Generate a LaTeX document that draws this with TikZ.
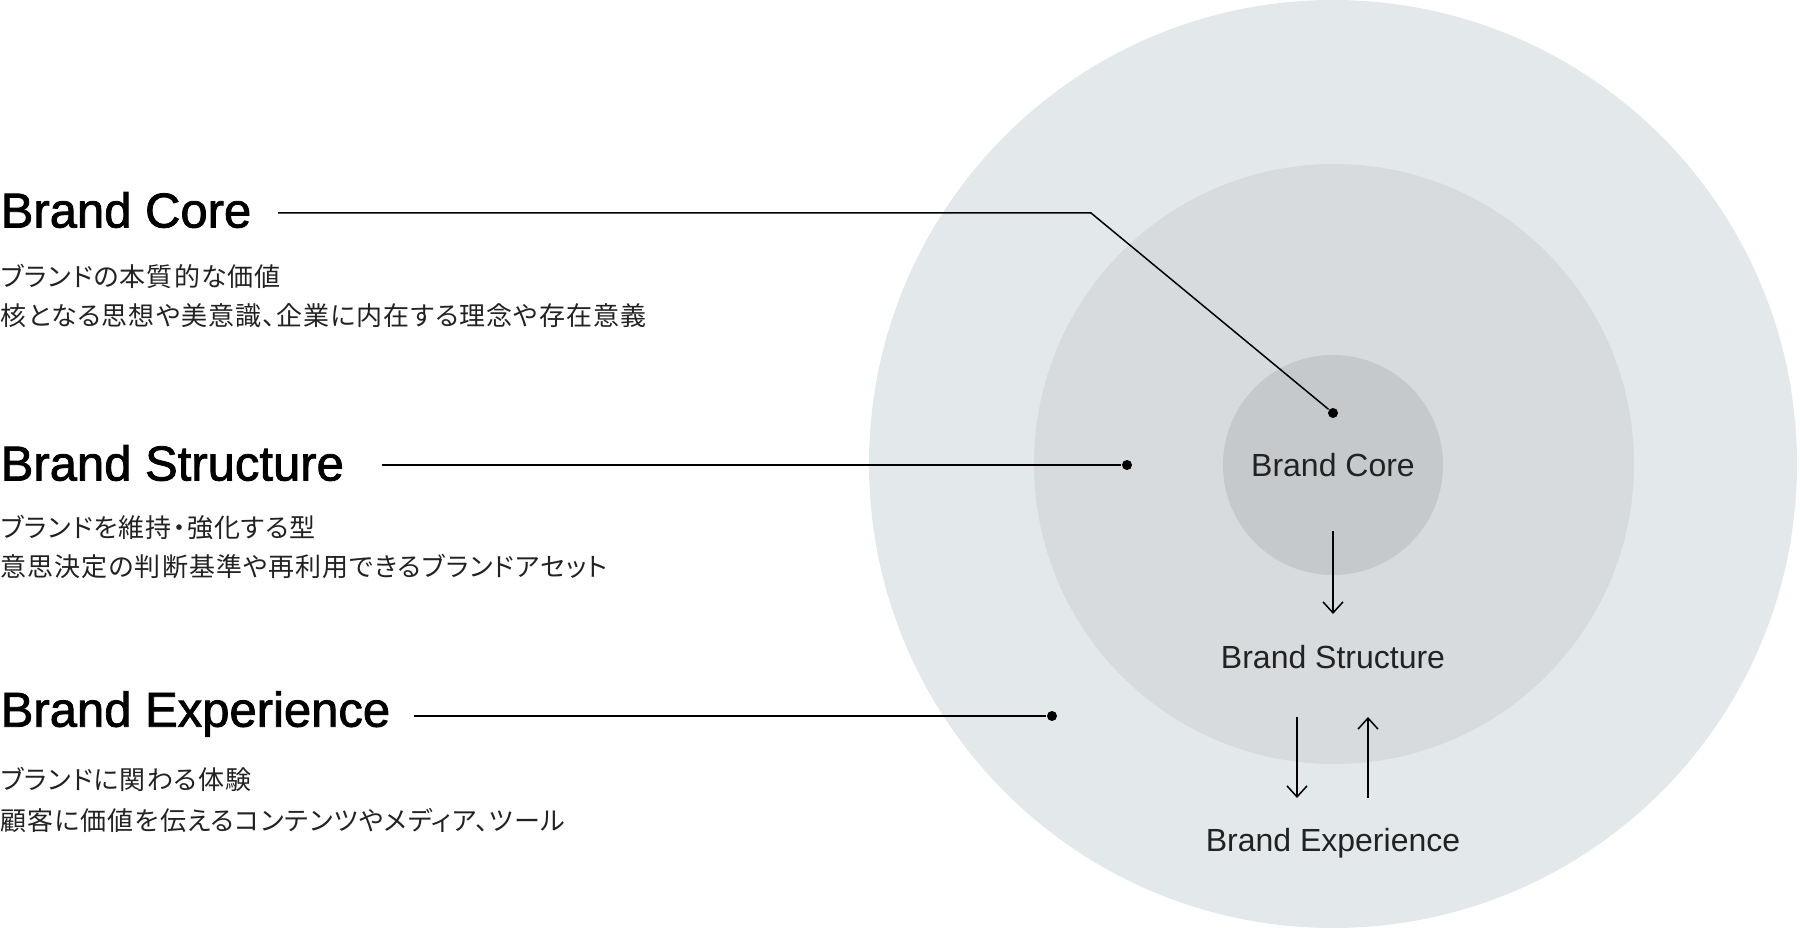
\documentclass[tikz,border=0pt]{standalone}
\usepackage{fontspec}
\setmainfont{Liberation Sans}
\newfontfamily\ttlfont[FakeBold=1.6]{Liberation Sans}
\newfontfamily\jpfont[RawFeature=+palt,LetterSpace=4]{Noto Sans CJK JP}
\usetikzlibrary{arrows.meta}
\definecolor{ringout}{RGB}{227,232,234}
\definecolor{ringmid}{RGB}{215,219,222}
\definecolor{ringin}{RGB}{198,201,204}
\definecolor{txtgray}{RGB}{34,34,34}

\begin{document}
\begin{tikzpicture}[x=0.5pt,y=-0.5pt,line width=0.75pt]
    \tikzstyle{every node}=[inner sep=0pt];
    \tikzstyle{title}=[anchor=west,font=\ttlfont\fontsize{24.5}{28}\selectfont];
    \tikzstyle{desc}=[anchor=west,text=txtgray,font=\jpfont\fontsize{13}{15}\selectfont];
    \tikzstyle{lbl}=[text=txtgray,font=\fontsize{16}{19}\selectfont];
    \tikzstyle{dot}=[circle,fill=black,minimum size=5pt];
    \tikzstyle{arr}=[-{Straight Barb[length=5.5pt,width=10pt]}];
    \useasboundingbox (0,0) rectangle (1800,930);

    % rings
    \fill[ringout] (1333,464) circle [radius=232pt];
    \fill[ringmid] (1334,464) circle [radius=150pt];
    \fill[ringin]  (1333,465) circle [radius=55pt];

    % labels in the rings
    \node[lbl] at (1333,465) (lblcore)   {Brand Core};
    \node[lbl] at (1333,657) (lblstruct) {Brand Structure};
    \node[lbl] at (1333,843) (lblexp)    {Brand Experience};

    % titles and texts on the left
    \node[title] at (0,210) (ttlcore)   {Brand Core};
    \node[desc]  at (0,276) (desccore1) {ブランドの本質的な価値};
    \node[desc]  at (0,316) (desccore2) {核となる思想や美意識、企業に内在する理念や存在意義};

    \node[title] at (0,463) (ttlstruct)   {Brand Structure};
    \node[desc]  at (0,528) (descstruct1) {ブランドを維持・強化する型};
    \node[desc]  at (0,567) (descstruct2) {意思決定の判断基準や再利用できるブランドアセット};

    \node[title] at (0,714) (ttlexp)   {Brand Experience};
    \node[desc]  at (0,779) (descexp1) {ブランドに関わる体験};
    \node[desc]  at (0,820) (descexp2) {顧客に価値を伝えるコンテンツやメディア、ツール};

    % leader lines
    \coordinate (startcore)   at (278,213);
    \coordinate (bendcore)    at (1091,213);
    \coordinate (startstruct) at (382,465);
    \coordinate (startexp)    at (414,716);
    \node[dot] at (1333,413) (dotcore) {};
    \node[dot] at (1127,465) (dotstruct) {};
    \node[dot] at (1052,716) (dotexp) {};

    \draw (startcore) -- (bendcore) -- (dotcore);
    \draw (startstruct) -- (dotstruct);
    \draw (startexp) -- (dotexp);

    % arrows
    \draw[arr,shorten <=33pt,shorten >=21.5pt] (lblcore.center) to (lblstruct.center);
    \draw[arr,shorten <=30pt,shorten >=22.5pt] ([xshift=-18pt]lblstruct.center) to ([xshift=-18pt]lblexp.center);
    \draw[arr,shorten <=22.5pt,shorten >=30pt] ([xshift=17.5pt]lblexp.center) to ([xshift=17.5pt]lblstruct.center);
\end{tikzpicture}
\end{document}
